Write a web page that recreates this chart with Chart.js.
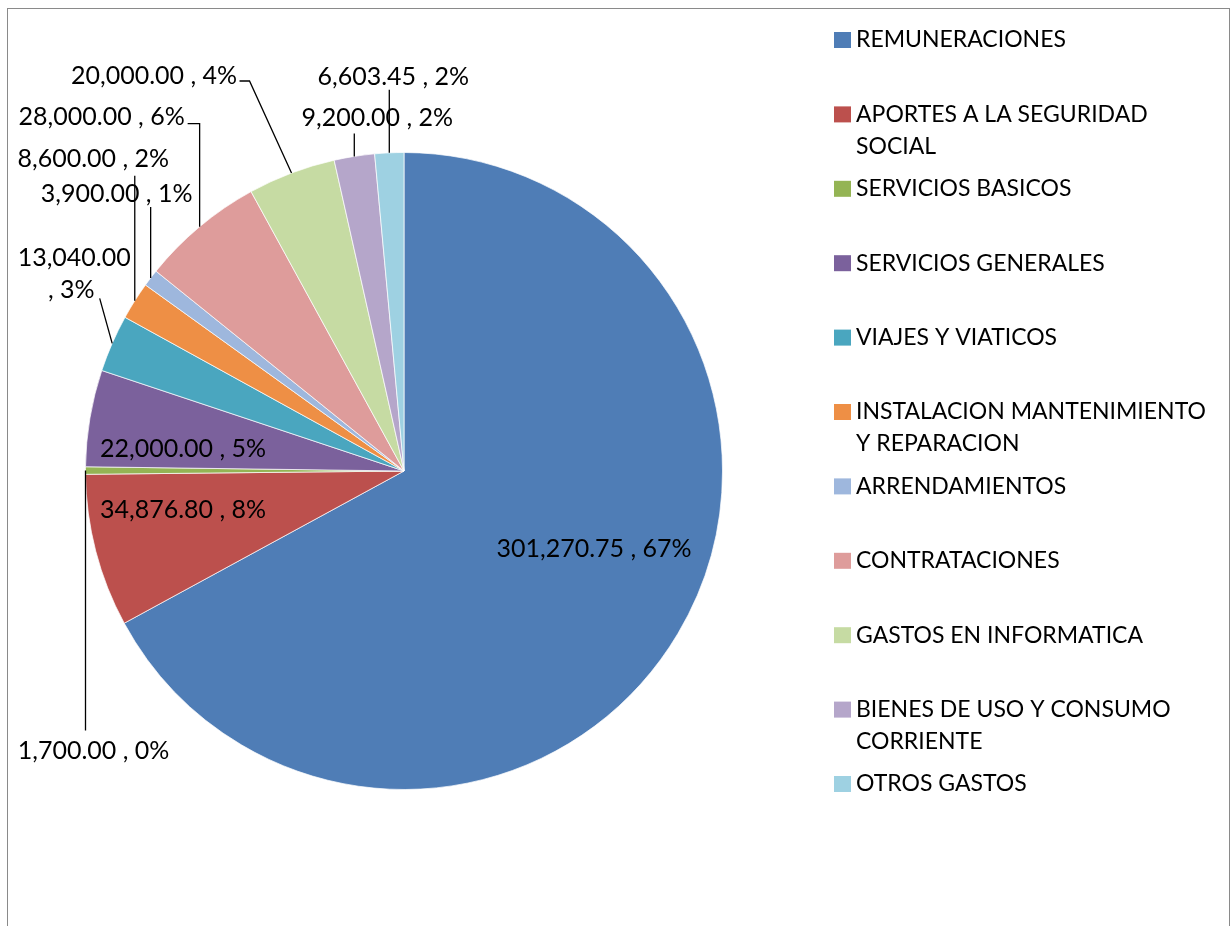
<!DOCTYPE html>
<html>
<head>
<meta charset="utf-8">
<script src="https://cdn.jsdelivr.net/npm/chart.js@4.4.1/dist/chart.umd.min.js"></script>
<style>
  html, body { margin: 0; padding: 0; background: #fff; }
  canvas { display: block; }
</style>
</head>
<body>
<canvas id="gastos" width="1231" height="926"></canvas>
<script>
// ===== DATOS =====

const categorias = [
  "REMUNERACIONES",
  "APORTES A LA SEGURIDAD SOCIAL",
  "SERVICIOS BASICOS",
  "SERVICIOS GENERALES",
  "VIAJES Y VIATICOS",
  "INSTALACION MANTENIMIENTO Y REPARACION",
  "ARRENDAMIENTOS",
  "CONTRATACIONES",
  "GASTOS EN INFORMATICA",
  "BIENES DE USO Y CONSUMO CORRIENTE",
  "OTROS GASTOS"
];

// lineas de la leyenda (como se ven cortadas en el original)
const leyendaLineas = [
  ["REMUNERACIONES"],
  ["APORTES A LA SEGURIDAD", "SOCIAL"],
  ["SERVICIOS BASICOS"],
  ["SERVICIOS GENERALES"],
  ["VIAJES Y VIATICOS"],
  ["INSTALACION MANTENIMIENTO", "Y REPARACION"],
  ["ARRENDAMIENTOS"],
  ["CONTRATACIONES"],
  ["GASTOS EN INFORMATICA"],
  ["BIENES DE USO Y CONSUMO", "CORRIENTE"],
  ["OTROS GASTOS"]
];

const valores = [301270.75, 34876.80, 1700.00, 22000.00, 13040.00, 8600.00, 3900.00, 28000.00, 20000.00, 9200.00, 6603.45];
const porcentajes = ["67%", "8%", "0%", "5%", "3%", "2%", "1%", "6%", "4%", "2%", "2%"];

const colores = [
  "#4f7db6", "#bc504d", "#94b454", "#7b619c", "#4aa6bf", "#ee8f45",
  "#9eb7dd", "#de9c9b", "#c6dba3", "#b5a6ca", "#9ed1e2"
];

// ===== COLOCACION DE ETIQUETAS =====
// "dentro": desplazamiento desde el centro del pastel
// "fuera": desplazamiento desde el borde del sector + puntos de la guia

const colocacion = [
  { tipo: "dentro", dx: 190, dy: 78 },
  { tipo: "dentro", dx: -221, dy: 39 },
  { tipo: "fuera", dx: 8, dy: 280, guia: [[0, 260]] },
  { tipo: "dentro", dx: -221, dy: -22 },
  { tipo: "fuera", dx: -38, dy: -69, guia: [[-12.5, -45]], partir: true },
  { tipo: "fuera", dx: -41.5, dy: -142, guia: [[0, -125]] },
  { tipo: "fuera", dx: -34, dy: -84, guia: [[0, -71]] },
  { tipo: "fuera", dx: -98, dy: -110, guia: [[0, -103], [-12, -103]] },
  { tipo: "fuera", dx: -137.5, dy: -97, guia: [[-42, -92], [-52, -92]] },
  { tipo: "fuera", dx: 23, dy: -38, guia: [[0, -23]] },
  { tipo: "fuera", dx: 4, dy: -76, guia: [[0, -63]] }
];

const FUENTE = "23px Lato, 'Open Sans', sans-serif";
const FUENTE_NUM = "25px Lato, 'Open Sans', sans-serif";

function fmt(v) {
  return v.toLocaleString("en-US", { minimumFractionDigits: 2, maximumFractionDigits: 2 });
}

//
// ===== PLUGINS =====
//

const marco = {
  id: "marco",
  beforeDraw(chart) {
    const ctx = chart.ctx;
    ctx.save();
    ctx.fillStyle = "#fff";
    ctx.fillRect(0, 0, chart.width, chart.height);
    ctx.strokeStyle = "#8a8a8a";
    ctx.lineWidth = 1;
    ctx.strokeRect(7.5, 8.5, 1222, 1000);
    ctx.restore();
  }
};

const etiquetas = {
  id: "etiquetas",
  afterDatasetsDraw(chart) {
    const ctx = chart.ctx;
    const arcs = chart.getDatasetMeta(0).data;
    ctx.save();
    ctx.font = FUENTE_NUM;
    ctx.fillStyle = "#000";
    ctx.strokeStyle = "#000";
    ctx.lineWidth = 1.3;
    ctx.textAlign = "center";
    ctx.textBaseline = "middle";

    arcs.forEach((arc, i) => {
      const p = arc.getProps(["x", "y", "startAngle", "endAngle", "outerRadius"], true);
      const mid = (p.startAngle + p.endAngle) / 2;
      const ax = p.x + Math.cos(mid) * p.outerRadius;
      const ay = p.y + Math.sin(mid) * p.outerRadius;
      const c = colocacion[i];
      const texto = fmt(valores[i]) + " , " + porcentajes[i];

      if (c.tipo === "dentro") {
        ctx.fillText(texto, p.x + c.dx, p.y + c.dy);
        return;
      }

      ctx.beginPath();
      ctx.moveTo(ax, ay);
      c.guia.forEach(g => ctx.lineTo(ax + g[0], ay + g[1]));
      ctx.stroke();

      if (c.partir) {
        ctx.fillText(fmt(valores[i]), ax + c.dx, ay + c.dy - 16);
        ctx.fillText(", " + porcentajes[i], ax + c.dx - 3, ay + c.dy + 16);
      } else {
        ctx.fillText(texto, ax + c.dx, ay + c.dy);
      }
    });
    ctx.restore();
  }
};

const leyenda = {
  id: "leyenda",
  afterDraw(chart) {
    const ctx = chart.ctx;
    ctx.save();
    ctx.font = FUENTE;
    ctx.textBaseline = "middle";
    ctx.textAlign = "left";
    leyendaLineas.forEach((lineas, i) => {
      const y = 40 + i * 74.4;
      ctx.fillStyle = colores[i];
      ctx.fillRect(834, y - 8, 17, 16);
      ctx.fillStyle = "#000";
      lineas.forEach((l, k) => ctx.fillText(l, 856, y + k * 32));
    });
    ctx.restore();
  }
};

//
// ===== PIE =====
//

new Chart(document.getElementById("gastos"), {
  type: "pie",
  data: {
    labels: categorias,
    datasets: [
      {
        data: valores,
        backgroundColor: colores,
        borderColor: "rgba(255,255,255,0.7)",
        borderWidth: 1
      }
    ]
  },
  options: {
    responsive: false,
    animation: false,
    layout: {
      padding: { left: 85, right: 508, top: 152, bottom: 136 }
    },
    plugins: {
      legend: { display: false },
      tooltip: { enabled: false }
    }
  },
  plugins: [marco, etiquetas, leyenda]
});
</script>
</body>
</html>
